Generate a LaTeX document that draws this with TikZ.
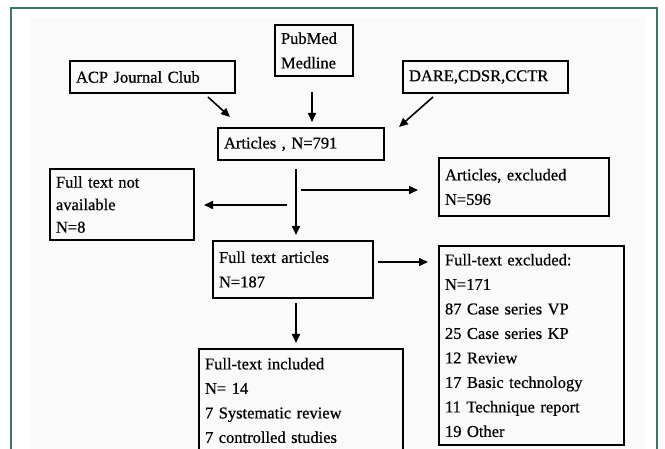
\documentclass[tikz,border=0pt]{standalone}
\usepackage{fontspec}
\setmainfont{Liberation Serif}[FakeBold=0.6]
\usetikzlibrary{arrows.meta}
\definecolor{framegreen}{RGB}{60,120,90}

\begin{document}
\begin{tikzpicture}[x=1pt, y=-1pt,
    box/.style={draw, line width=1.6pt, inner xsep=6pt, inner ysep=0pt,
        align=left, font=\fontsize{16.5}{24.5}\selectfont},
    arr/.style={line width=1.6pt, -{Triangle[length=9pt, width=8pt]}}]
\useasboundingbox (0,0) rectangle (665,449);
\fill[gray!4] (30,17) rectangle (645,449);
\draw[framegreen, line width=1.5pt] (11,460) -- (11,8) -- (657,8) -- (657,460);

% sources
\node[box, text width=66pt, minimum height=51pt] (pubmed) at (314,50.5) {PubMed\\Medline};
\node[box, text width=153pt, minimum height=32pt] (acp) at (152.5,77) {ACP Journal Club};
\node[box, text width=153pt, minimum height=32pt] (dare) at (485.5,77) {DARE,CDSR,CCTR};

% screening
\node[box, text width=154pt, minimum height=32pt] (art) at (301,144) {Articles , N=791};
\node[box, text width=132pt, minimum height=71pt, font=\fontsize{16.5}{22.5}\selectfont]
    (notavail) at (122,204.5) {Full text not\\available\\N=8};
\node[box, text width=158pt, minimum height=58pt] (artexcl) at (524,187) {Articles, excluded\\N=596};
\node[box, text width=148pt, minimum height=57pt] (fulltext) at (293,269.5) {Full text articles\\N=187};
\node[box, text width=173pt, minimum height=199pt] (ftexcl) at (531.5,345.5)
    {Full-text excluded:\\N=171\\87 Case series VP\\25 Case series KP\\12 Review\\17 Basic technology\\11 Technique report\\19 Other};
\node[box, text width=192pt, minimum height=103pt] (ftincl) at (301,400.5)
    {Full-text included\\N= 14\\7 Systematic review\\7 controlled studies};

% arrow ends
\coordinate (acp-a) at (208,97);    \coordinate (acp-b) at (230,117);
\coordinate (pub-a) at (312,92);    \coordinate (pub-b) at (312,122);
\coordinate (dare-a) at (433,97);   \coordinate (dare-b) at (399,127);
\coordinate (art-a) at (296,169);   \coordinate (art-b) at (296,235);
\coordinate (ex-a) at (301,190);    \coordinate (ex-b) at (418,190);
\coordinate (na-a) at (287,205);    \coordinate (na-b) at (204,205);
\coordinate (ft-a) at (378,262);    \coordinate (ft-b) at (428,262);
\coordinate (in-a) at (296,303);    \coordinate (in-b) at (296,343);

\foreach \s in {acp, pub, dare, art, ex, na, ft, in}
    \draw[arr] (\s-a) -- (\s-b);
\end{tikzpicture}
\end{document}
